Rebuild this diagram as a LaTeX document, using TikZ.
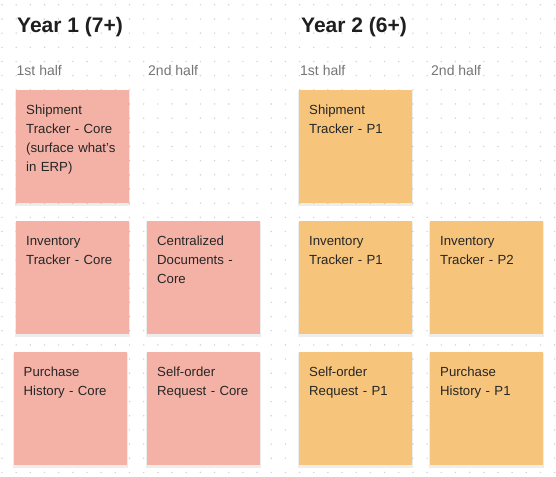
\documentclass[tikz,border=0pt]{standalone}
\usepackage{fontspec}
\setmainfont{Liberation Sans}
\usetikzlibrary{positioning, shadows}

\definecolor{dotgrey}{HTML}{D2D2D2}
\definecolor{corepink}{HTML}{F4B2A6}
\definecolor{phasegold}{HTML}{F6C47B}
\definecolor{labelgrey}{HTML}{757575}
\definecolor{inkdark}{HTML}{262626}

\tikzset{
  sticky/.style={rectangle, minimum width=113pt, minimum height=113pt, inner sep=0pt, anchor=north west,
    drop shadow={shadow xshift=0pt, shadow yshift=-1.5pt, shadow scale=1.02, opacity=0.07, fill=black}},
  core/.style={sticky, fill=corepink},
  phase/.style={sticky, fill=phasegold},
  note/.style={anchor=base west, align=left, text width=100pt, inner sep=0pt,
    font=\fontsize{13.2}{19}\selectfont, text=inkdark},
  yeartitle/.style={anchor=base west, inner sep=0pt, font=\fontsize{21}{24}\selectfont\bfseries, text=black!88},
  halflabel/.style={anchor=base west, inner sep=0pt, font=\fontsize{14}{17}\selectfont, text=labelgrey},
}

\begin{document}
\begin{tikzpicture}[x=1pt, y=-1pt]
\useasboundingbox[fill=white] (0,0) rectangle (556,476);

% dot grid
\foreach \i in {0,...,39}
  \foreach \j in {0,...,33}
    \fill[dotgrey] (2+14.17*\i, 4.8+14.17*\j) circle (0.8);

% headings
\node[yeartitle] (y1) at (17,33) {Year 1 (7+)};
\node[yeartitle] (y2) at (301,33) {Year 2 (6+)};
\node[halflabel] (h11) at (16.5,76) {1st half};
\node[halflabel] (h12) at (148,76) {2nd half};
\node[halflabel] (h21) at (300,76) {1st half};
\node[halflabel] (h22) at (431,76) {2nd half};

% year 1
\node[core] (a1) at (16,90) {};
\node[core] (a2) at (16,221) {};
\node[core] (b2) at (147,221) {};
\node[core] (a3) at (14,352) {};
\node[core] (b3) at (147,352) {};

% year 2
\node[phase] (c1) at (299,90) {};
\node[phase] (c2) at (299,221) {};
\node[phase] (d2) at (430,221) {};
\node[phase] (c3) at (299,352) {};
\node[phase] (d3) at (430,352) {};

% sticky texts
\node[note] (ta1) at ([xshift=10pt, yshift=-24pt]a1.north west) {Shipment\\Tracker - Core\\(surface what’s\\in ERP)};
\node[note] (ta2) at ([xshift=10pt, yshift=-24pt]a2.north west) {Inventory\\Tracker - Core};
\node[note] (tb2) at ([xshift=10pt, yshift=-24pt]b2.north west) {Centralized\\Documents -\\Core};
\node[note] (ta3) at ([xshift=9.5pt, yshift=-24pt]a3.north west) {Purchase\\History - Core};
\node[note] (tb3) at ([xshift=10pt, yshift=-24pt]b3.north west) {Self-order\\Request - Core};
\node[note] (tc1) at ([xshift=10pt, yshift=-24pt]c1.north west) {Shipment\\Tracker - P1};
\node[note] (tc2) at ([xshift=10pt, yshift=-24pt]c2.north west) {Inventory\\Tracker - P1};
\node[note] (td2) at ([xshift=10pt, yshift=-24pt]d2.north west) {Inventory\\Tracker - P2};
\node[note] (tc3) at ([xshift=10pt, yshift=-24pt]c3.north west) {Self-order\\Request - P1};
\node[note] (td3) at ([xshift=10pt, yshift=-24pt]d3.north west) {Purchase\\History - P1};
\end{tikzpicture}
\end{document}
